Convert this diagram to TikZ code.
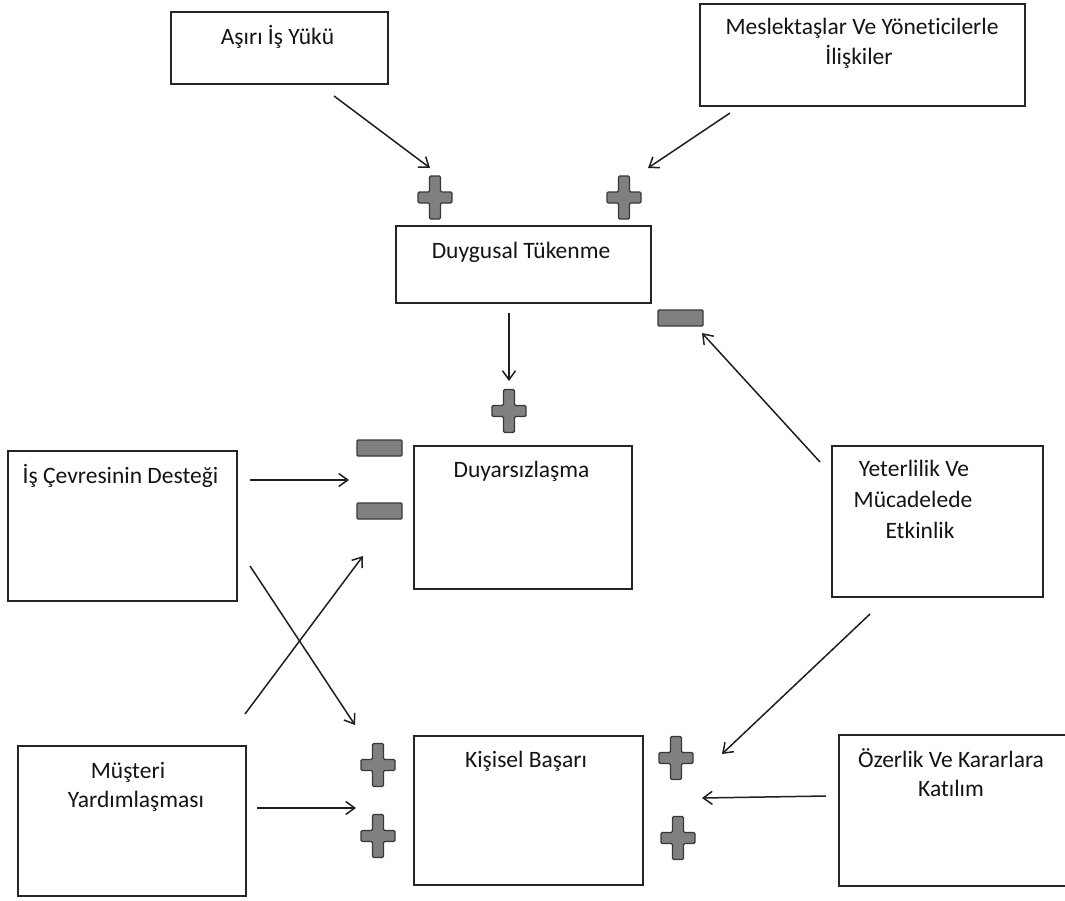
\documentclass[tikz,border=0pt]{standalone}
\usepackage{fontspec}
\setmainfont{Carlito}[RawFeature=-liga]
\usetikzlibrary{arrows.meta}
\definecolor{boxline}{HTML}{262626}
\definecolor{signfill}{HTML}{808080}
\definecolor{signline}{HTML}{383838}
\tikzset{
  box/.style={draw=boxline, line width=1.6pt, fill=white, inner sep=0pt},
  lbl/.style={font=\fontsize{23.5}{28}\selectfont, text=black!92, inner sep=0pt, anchor=base, align=center},
  conn/.style={line width=1.5pt, draw=black!88, -{Straight Barb[length=9pt,width=13pt,line width=1.5pt]}},
  plussign/.pic={
    \draw[signline, line width=1.3pt, fill=signfill, rounded corners=1.2pt]
      (-5.5,-21.5) -- (5.5,-21.5) -- (5.5,-5.5) -- (17,-5.5) -- (17,5.5) -- (5.5,5.5)
      -- (5.5,21.5) -- (-5.5,21.5) -- (-5.5,5.5) -- (-17,5.5) -- (-17,-5.5) -- (-5.5,-5.5) -- cycle;
  },
  minussign/.pic={
    \draw[signline, line width=1.3pt, fill=signfill, rounded corners=1pt]
      (-22.5,-8) rectangle (22.5,8);
  }
}
\begin{document}
\begin{tikzpicture}[x=1pt, y=-1pt]
\useasboundingbox (0,0) rectangle (1065,900);

% boxes
\node[box, minimum width=217pt, minimum height=72pt]  (asiri) at (279.5,48) {};
\node[box, minimum width=325pt, minimum height=102pt] (mesl)  at (862.5,55) {};
\node[box, minimum width=255pt, minimum height=77pt]  (duyg)  at (523.5,264.5) {};
\node[box, minimum width=218pt, minimum height=143pt] (duya)  at (523,517.5) {};
\node[box, minimum width=229pt, minimum height=150pt] (cevre) at (122.5,526) {};
\node[box, minimum width=211pt, minimum height=151pt] (yet)   at (937.5,521.5) {};
\node[box, minimum width=228pt, minimum height=150pt] (must)  at (132,821) {};
\node[box, minimum width=229pt, minimum height=149pt] (kis)   at (528.5,810.5) {};
\node[box, minimum width=240pt, minimum height=151pt] (ozer)  at (959,810.5) {};

% box texts
\node[lbl] (tasiri) at (277.5,44) {Aşırı İş Yükü};
\node[lbl] (tmesl1) at (862,34) {Meslektaşlar Ve Yöneticilerle};
\node[lbl] (tmesl2) at (859,64) {İlişkiler};
\node[lbl] (tduyg)  at (521,258) {Duygusal Tükenme};
\node[lbl] (tduya)  at (521.5,477) {Duyarsızlaşma};
\node[lbl] (tcevre) at (120.5,483) {İş Çevresinin Desteği};
\node[lbl] (tyet1)  at (914,476) {Yeterlilik Ve};
\node[lbl] (tyet2)  at (913,507) {Mücadelede};
\node[lbl] (tyet3)  at (920,538) {Etkinlik};
\node[lbl] (tmust1) at (128,778) {Müşteri};
\node[lbl] (tmust2) at (136,807) {Yardımlaşması};
\node[lbl] (tkis)   at (526,767) {Kişisel Başarı};
\node[lbl] (tozer1) at (951,767) {Özerlik Ve Kararlara};
\node[lbl] (tozer2) at (951,796) {Katılım};

% signs
\pic at (435,197.5) {plussign};
\pic at (624,197.5) {plussign};
\pic at (509,411)   {plussign};
\pic at (378,765)   {plussign};
\pic at (378,836)   {plussign};
\pic at (676,758)   {plussign};
\pic at (678,838)   {plussign};
\pic at (680.5,318) {minussign};
\pic at (379.5,448) {minussign};
\pic at (379.5,511) {minussign};

% connector ends
\coordinate (a1) at (334,96);   \coordinate (a2) at (430,168);
\coordinate (b1) at (730,113);  \coordinate (b2) at (648,168);
\coordinate (c1) at (509,313);  \coordinate (c2) at (509,381);
\coordinate (d1) at (820,462);  \coordinate (d2) at (702,333);
\coordinate (e1) at (250,480);  \coordinate (e2) at (349,480);
\coordinate (f1) at (250,566);  \coordinate (f2) at (355,725);
\coordinate (g1) at (245,714);  \coordinate (g2) at (363,556);
\coordinate (h1) at (257,808);  \coordinate (h2) at (356,808);
\coordinate (i1) at (870,614);  \coordinate (i2) at (722,754);
\coordinate (j1) at (826,796);  \coordinate (j2) at (702,798);

% connectors
\draw[conn] (a1) -- (a2);
\draw[conn] (b1) -- (b2);
\draw[conn] (c1) -- (c2);
\draw[conn] (d1) -- (d2);
\draw[conn] (e1) -- (e2);
\draw[conn] (f1) -- (f2);
\draw[conn] (g1) -- (g2);
\draw[conn] (h1) -- (h2);
\draw[conn] (i1) -- (i2);
\draw[conn] (j1) -- (j2);
\end{tikzpicture}
\end{document}
